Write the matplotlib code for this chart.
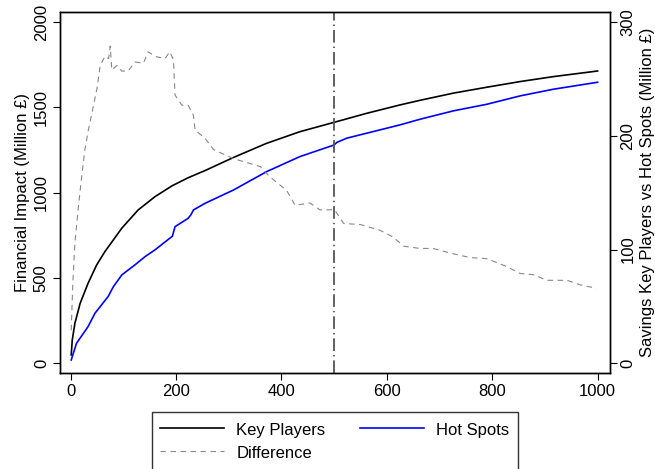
import matplotlib
matplotlib.use("Agg")
import matplotlib.pyplot as plt
from matplotlib.lines import Line2D

plt.rcParams['font.family'] = ['Liberation Sans', 'DejaVu Sans']

# Key Players cumulative financial impact (left axis, Million £)
kp_x = [1, 3, 8, 18, 33, 49, 65, 97, 128, 160, 192, 223, 255, 309, 372, 435,
        500, 562, 625, 663, 726, 790, 853, 916, 1000]
kp_y = [49, 137, 235, 352, 469, 575, 655, 792, 899, 977, 1040, 1088, 1130, 1207,
        1290, 1358, 1413, 1466, 1515, 1542, 1584, 1619, 1652, 1681, 1714]

# Hot Spots cumulative financial impact (left axis, Million £)
hs_x = [1, 11, 33, 46, 71, 81, 97, 122, 141, 160, 188, 193, 198, 223, 228, 233,
        255, 309, 372, 435, 500, 505, 524, 625, 663, 726, 790, 853, 916, 1000]
hs_y = [19, 117, 215, 293, 391, 449, 518, 577, 625, 665, 733, 745, 801, 850, 870,
        899, 938, 1016, 1124, 1212, 1280, 1295, 1320, 1398, 1431, 1480, 1519,
        1568, 1607, 1648]

# Difference / savings (right axis, Million £)
df_x = [1, 4, 8, 14, 21, 27, 33, 42, 50, 56, 65, 72, 75, 78, 88, 97, 109, 122,
        138, 147, 160, 179, 188, 195, 198, 211, 223, 233, 236, 255, 271, 309,
        360, 378, 410, 426, 454, 473, 501, 518, 550, 587, 612, 632, 663, 688,
        720, 758, 790, 828, 853, 878, 904, 942, 967, 998]
df_y = [29, 70, 106, 135, 165, 188, 204, 224, 242, 262, 270, 268, 279, 258, 262,
        257, 257, 265, 264, 274, 270, 268, 274, 267, 236, 227, 227, 218, 205,
        198, 188, 180, 173, 164, 152, 139, 141, 135, 135, 123, 122, 117, 111,
        103, 101, 101, 97, 93, 92, 85, 79, 78, 73, 73, 69, 66]

vline_x = 500
xticks = [0, 200, 400, 600, 800, 1000]
lyticks = [0, 500, 1000, 1500, 2000]
ryticks = [0, 100, 200, 300]

fig = plt.figure(figsize=(6.55, 4.69), dpi=100)
ax = fig.add_axes([60 / 655, 1 - 373.3 / 469, (609.5 - 60) / 655, (373.3 - 12) / 469])
ax2 = ax.twinx()

ax.plot(kp_x, kp_y, color='black', lw=1.2, label='Key Players')
ax.plot(hs_x, hs_y, color='#0000ff', lw=1.2, label='Hot Spots')
ax2.plot(df_x, df_y, color='#888888', lw=0.8, ls=(0, (5, 4)), label='Difference')
ax.axvline(vline_x, color='#555555', lw=1.3, ls=(0, (7, 2.2, 0.8, 2.2)))

ax.set_xlim(-20.3, 1022.6)
ax.set_ylim(-59, 2060)
ax2.set_ylim(-8.8, 309)

fs = 12
ax.set_xticks(xticks)
ax.set_yticks(lyticks)
ax2.set_yticks(ryticks)
ax.tick_params(axis='both', direction='out', length=5, width=0.8, labelsize=fs, pad=3)
ax2.tick_params(axis='y', direction='out', length=5, width=0.8, labelsize=fs, pad=3)
for lab in ax.get_yticklabels():
    lab.set_rotation(90)
    lab.set_va('center')
for lab in ax2.get_yticklabels():
    lab.set_rotation(90)
    lab.set_va('center')

for a in (ax, ax2):
    for s in a.spines.values():
        s.set_linewidth(1.0)

ax.set_ylabel('Financial Impact (Million £)', fontsize=fs, labelpad=3)
ax2.set_ylabel('Savings Key Players vs Hot Spots (Million £)', fontsize=fs, labelpad=3)

handles = [Line2D([], [], color='black', lw=1.2),
           Line2D([], [], color='#888888', lw=0.8, ls=(0, (5, 4))),
           Line2D([], [], color='#0000ff', lw=1.2)]
labels = ['Key Players', 'Difference', 'Hot Spots']
leg = fig.legend(handles, labels, ncol=2, loc='upper left',
                 bbox_to_anchor=(152 / 655, 1 - 412 / 469), fontsize=fs,
                 frameon=True, fancybox=False, edgecolor='black',
                 handlelength=3.8, handletextpad=0.75, columnspacing=2.1,
                 handleheight=1.35, labelspacing=0.25, borderpad=0.5,
                 borderaxespad=0)
leg.get_frame().set_linewidth(1.0)

fig.savefig('out.png', dpi=100)
